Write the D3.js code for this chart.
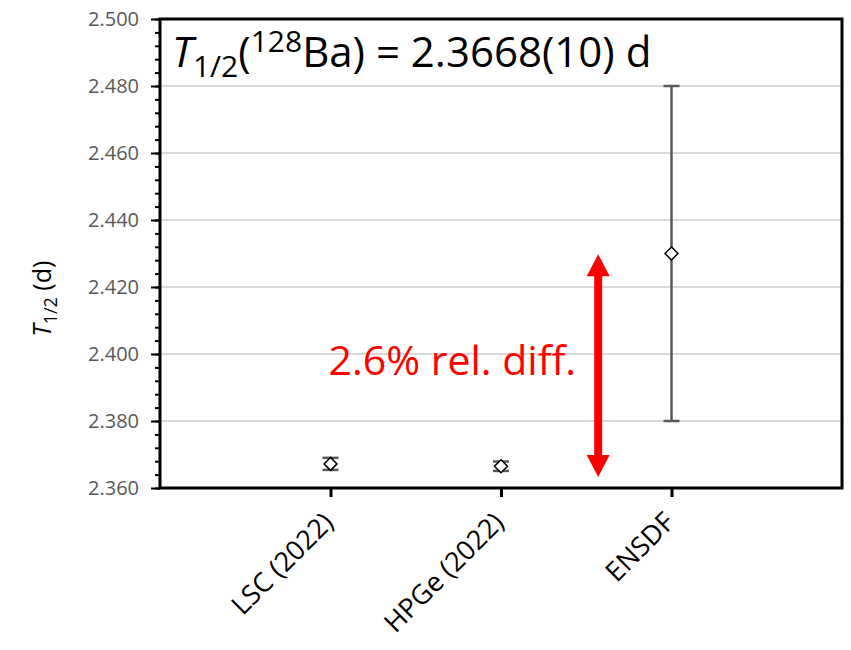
<!DOCTYPE html>
<meta charset="utf-8">
<style>
body { margin: 0; background: #fff; }
text { font-family: "Open Sans", "Liberation Sans", sans-serif; }
</style>
<svg width="851" height="650"></svg>
<script src="https://cdn.jsdelivr.net/npm/d3@7"></script>
<script>

// data
var categories = ["LSC (2022)", "HPGe (2022)", "ENSDF"];
var halfLives  = [2.3672, 2.3665, 2.430];   // d
var errors     = [0.0018, 0.0014, 0.050];   // d
var yTicks     = [2.360, 2.380, 2.400, 2.420, 2.440, 2.460, 2.480, 2.500];
var arrowEnds  = [2.3633, 2.4298];          // red arrow, in d
var arrowPos   = 2.57;                      // category index of the arrow

var svg = d3.select("svg"),
    margin = {top: 19, right: 9, bottom: 162, left: 160},
    width = +svg.attr("width") - margin.left - margin.right,
    height = +svg.attr("height") - margin.top - margin.bottom,
    g = svg.append("g").attr("transform", "translate(" + margin.left + "," + margin.top + ")");

// categories sit at 1..n, with one empty slot each side
var x = d3.scaleLinear().domain([0, categories.length + 1]).range([0, width]);
var y = d3.scaleLinear().domain([2.36, 2.50]).range([height, 0]);

// gridlines
g.append("g")
  .selectAll("line")
  .data(yTicks.slice(1, -1))
  .enter().append("line")
    .attr("x1", 0).attr("x2", width)
    .attr("y1", function(d) { return y(d); })
    .attr("y2", function(d) { return y(d); })
    .attr("stroke", "#d9d9d9")
    .attr("stroke-width", 2);

// y axis with minor ticks
var yAxis = g.append("g")
    .call(d3.axisLeft(y).tickValues(d3.range(2.36, 2.5001, 0.004)).tickSize(5).tickFormat(""));
yAxis.selectAll(".tick line").attr("stroke", "#000").attr("stroke-width", 2);
yAxis.select(".domain").remove();

var yMajor = g.append("g")
    .call(d3.axisLeft(y).tickValues(yTicks).tickSize(9).tickPadding(12).tickFormat(d3.format(".3f")));
yMajor.select(".domain").remove();
yMajor.selectAll(".tick line").attr("stroke", "#000").attr("stroke-width", 2);
yMajor.selectAll(".tick text")
    .attr("fill", "#595959")
    .style("font-size", "20px")
    .style("font-family", "'Open Sans', sans-serif");

// x axis ticks
var xAxis = g.append("g")
    .attr("transform", "translate(0," + height + ")")
    .call(d3.axisBottom(x).tickValues(d3.range(1, categories.length + 1)).tickSize(9).tickFormat(""));
xAxis.select(".domain").remove();
xAxis.selectAll(".tick line").attr("stroke", "#000").attr("stroke-width", 3);

xAxis.selectAll(".tick")
  .append("text")
    .attr("fill", "#000")
    .attr("text-anchor", "end")
    .attr("transform", "translate(4,36) rotate(-45)")
    .style("font-size", "27px")
    .style("font-family", "'Open Sans', sans-serif")
    .text(function(d) { return categories[d - 1]; });

// frame
g.append("rect")
    .attr("width", width)
    .attr("height", height)
    .attr("fill", "none")
    .attr("stroke", "#000")
    .attr("stroke-width", 3);

// error bars
var pts = g.selectAll(".pt")
  .data(halfLives)
  .enter().append("g")
    .attr("class", "pt")
    .attr("transform", function(d, i) { return "translate(" + x(i + 1) + ",0)"; });

pts.append("line")
    .attr("y1", function(d, i) { return y(d - errors[i]); })
    .attr("y2", function(d, i) { return y(d + errors[i]); })
    .attr("stroke", "#595959")
    .attr("stroke-width", 2.5);

pts.selectAll(".cap")
  .data(function(d, i) { return [d - errors[i], d + errors[i]]; })
  .enter().append("line")
    .attr("x1", -8).attr("x2", 8)
    .attr("y1", function(d) { return y(d); })
    .attr("y2", function(d) { return y(d); })
    .attr("stroke", "#595959")
    .attr("stroke-width", 2.5);

pts.append("path")
    .attr("d", "M0,-6.5L6.5,0L0,6.5L-6.5,0Z")
    .attr("transform", function(d) { return "translate(0," + y(d) + ")"; })
    .attr("fill", "#fff")
    .attr("stroke", "#000")
    .attr("stroke-width", 1.5);

// red arrow
var ax = x(arrowPos), aTop = y(arrowEnds[1]), aBot = y(arrowEnds[0]), head = 22, hw = 11.5;
g.append("line")
    .attr("x1", ax).attr("x2", ax)
    .attr("y1", aTop + head - 2).attr("y2", aBot - head + 2)
    .attr("stroke", "#ff0000")
    .attr("stroke-width", 8);
g.append("path")
    .attr("d", "M" + ax + "," + aTop + "L" + (ax + hw) + "," + (aTop + head) + "L" + (ax - hw) + "," + (aTop + head) + "Z" +
               "M" + ax + "," + aBot + "L" + (ax + hw) + "," + (aBot - head) + "L" + (ax - hw) + "," + (aBot - head) + "Z")
    .attr("fill", "#ff0000");

g.append("text")
    .attr("x", x(2.44))
    .attr("y", y(2.3937))
    .attr("text-anchor", "end")
    .attr("fill", "#ff0000")
    .style("font-size", "41px")
    .text("2.6% rel. diff.");

// title inside the plot
var title = g.append("text")
    .attr("x", 12)
    .attr("y", 48)
    .attr("fill", "#000")
    .style("font-size", "42px");
title.append("tspan").style("font-style", "italic").text("T");
title.append("tspan").attr("dy", 10).style("font-size", "30px").text("1/2");
title.append("tspan").attr("dy", -10).text("(");
title.append("tspan").attr("dy", -15).style("font-size", "30px").text("128");
title.append("tspan").attr("dy", 15).text("Ba) = 2.3668(10) d");

// y label
var ylab = svg.append("text")
    .attr("transform", "translate(51," + (margin.top + y(2.4165)) + ") rotate(-90)")
    .attr("text-anchor", "middle")
    .attr("fill", "#000")
    .style("font-size", "25px");
ylab.append("tspan").style("font-style", "italic").text("T");
ylab.append("tspan").attr("dy", 6).style("font-size", "18px").text("1/2");
ylab.append("tspan").attr("dy", -6).text(" (d)");

</script>
